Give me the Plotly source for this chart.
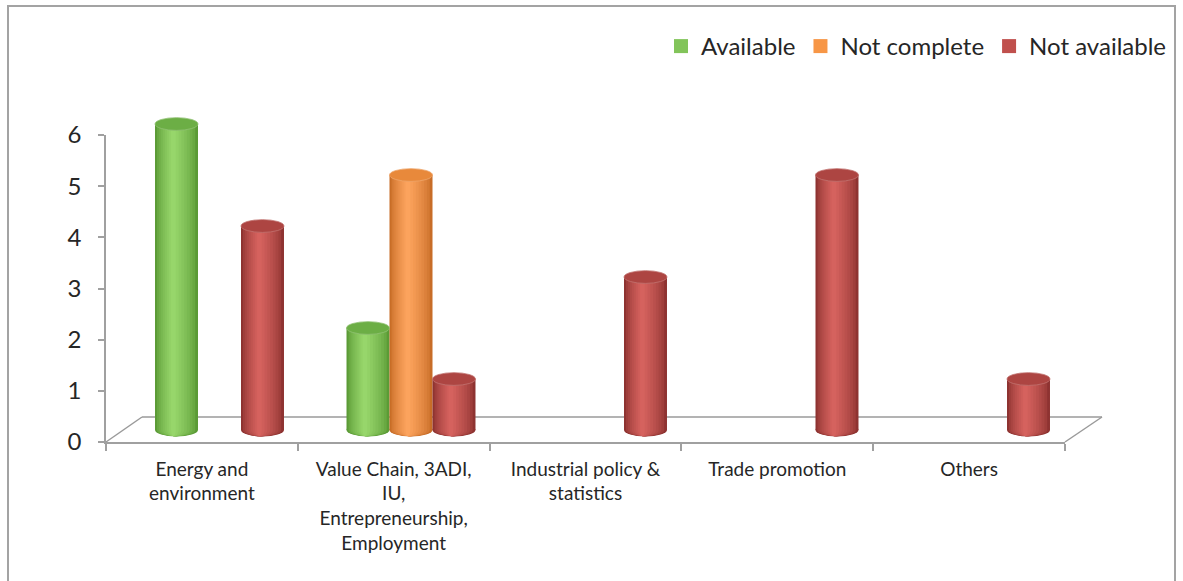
import plotly.graph_objects as go

# ---- data -------------------------------------------------------------
categories = [
    "Energy and environment",
    "Value Chain, 3ADI, IU, Entrepreneurship, Employment",
    "Industrial policy & statistics",
    "Trade promotion",
    "Others",
]
tick_labels = [
    "Energy and<br>environment",
    "Value Chain, 3ADI,<br>IU,<br>Entrepreneurship,<br>Employment",
    "Industrial policy &<br>statistics",
    "Trade promotion",
    "Others",
]
series_names = ["Available", "Not complete", "Not available"]
available = [6, 2, 0, 0, 0]
not_complete = [0, 5, 0, 0, 0]
not_available = [4, 1, 3, 5, 1]
y_ticks = [0, 1, 2, 3, 4, 5, 6]

# ---- styling ------------------------------------------------------------
W_PX, H_PX = 1183, 581
FONT = "Lato"
TEXT = "#262626"
AXIS = "#a0a0a0"

# (edge shade, highlight shade, top cap, legend swatch)
palettes = [
    ("#5b9b36", "#97d66b", "#6cae45", "#82c45a"),
    ("#c86d27", "#fca35d", "#e8893b", "#f79646"),
    ("#8e3331", "#d5625e", "#ad4542", "#c0504d"),
]


def px_x(p):
    return p / W_PX


def px_y(p):
    return 1 - p / H_PX


def mix(c1, c2, t):
    a = [int(c1[i:i + 2], 16) for i in (1, 3, 5)]
    b = [int(c2[i:i + 2], 16) for i in (1, 3, 5)]
    return "#%02x%02x%02x" % tuple(round(a[j] + (b[j] - a[j]) * t) for j in range(3))


BAR_W = 0.2245      # cylinder width in category units
CAP_B = 0.125       # vertical semi-axis of the elliptical ends (value units)
N_LAYERS = 9        # shading steps across each cylinder
HIGHLIGHT = 0.42    # position of the highlight across the cylinder

# value axis of the cylinders sits half-way into the floor depth
Y0_PX, UNIT_PX = 430.0, 51.0
Y2_RANGE = [-0.35, 6.5]

fig = go.Figure()

# invisible trace so the front category axis is populated
fig.add_trace(go.Scatter(
    x=categories, y=[0] * len(categories), mode="markers",
    marker=dict(opacity=0), showlegend=False, hoverinfo="skip",
    xaxis="x", yaxis="y",
))

shapes = []
series_values = [available, not_complete, not_available]
for s, (name, vals) in enumerate(zip(series_names, series_values)):
    edge, hi, top, swatch = palettes[s]
    xs = [i + (s - 1) * BAR_W for i in range(len(categories))]
    for k in range(N_LAYERS):
        f = 1 - k / N_LAYERS
        off = -BAR_W / 2 + (1 - f) * HIGHLIGHT * BAR_W
        col = mix(edge, hi, (k / (N_LAYERS - 1)) ** 0.7)
        fig.add_trace(go.Bar(
            x=xs, y=vals, width=f * BAR_W, offset=off,
            marker=dict(color=col, line=dict(width=0)),
            xaxis="x2", yaxis="y2", showlegend=False, hoverinfo="skip",
        ))
        # rounded bottom of each cylinder
        for x, v in zip(xs, vals):
            if v <= 0:
                continue
            cx_inner = x + off + f * BAR_W / 2
            rel = (cx_inner - x) / (BAR_W / 2)
            b = CAP_B * max(0.0, 1 - rel * rel) ** 0.5 * (0.98 if k else 1.0)
            shapes.append(dict(
                type="circle", xref="x2", yref="y2", layer="below",
                x0=x + off, x1=x + off + f * BAR_W, y0=-b, y1=b,
                fillcolor=col, line=dict(width=0),
            ))
    # flat elliptical top of each cylinder
    for x, v in zip(xs, vals):
        if v <= 0:
            continue
        shapes.append(dict(
            type="circle", xref="x2", yref="y2", layer="above",
            x0=x - BAR_W / 2, x1=x + BAR_W / 2, y0=v - CAP_B, y1=v + CAP_B,
            fillcolor=top, line=dict(color=mix(top, "#ffffff", 0.25), width=0.8),
        ))
    # legend swatch
    fig.add_trace(go.Scatter(
        x=[None], y=[None], name=name, mode="markers",
        marker=dict(symbol="square", size=14, color=swatch),
        xaxis="x2", yaxis="y2", showlegend=True,
    ))

# 3-D floor outline (back edge and side edges)
floor_col = "#9a9a9a"
shapes += [
    dict(type="line", xref="paper", yref="paper", layer="below",
         x0=px_x(142), y0=px_y(417), x1=px_x(1102), y1=px_y(417),
         line=dict(color=floor_col, width=1.5)),
    dict(type="line", xref="paper", yref="paper", layer="below",
         x0=px_x(106), y0=px_y(442), x1=px_x(142), y1=px_y(417),
         line=dict(color=floor_col, width=1.5)),
    dict(type="line", xref="paper", yref="paper", layer="below",
         x0=px_x(1065), y0=px_y(442), x1=px_x(1102), y1=px_y(417),
         line=dict(color=floor_col, width=1.5)),
    # chart area border
    dict(type="rect", xref="paper", yref="paper", layer="below",
         x0=px_x(8), y0=-0.05, x1=px_x(1175), y1=px_y(6),
         line=dict(color="#a3a3a3", width=2), fillcolor="rgba(0,0,0,0)"),
]

fig.update_layout(
    width=W_PX, height=H_PX,
    margin=dict(l=0, r=0, t=0, b=0, autoexpand=False),
    paper_bgcolor="white", plot_bgcolor="rgba(0,0,0,0)",
    font=dict(family=FONT, color=TEXT),
    barmode="overlay",
    showlegend=True,
    legend=dict(
        orientation="h", x=px_x(1172), xanchor="right",
        y=px_y(24), yanchor="top",
        font=dict(family=FONT, size=24, color=TEXT),
        bgcolor="rgba(0,0,0,0)", itemclick=False, itemdoubleclick=False,
    ),
    xaxis=dict(
        type="category", domain=[px_x(106), px_x(1065)],
        anchor="y", range=[-0.5, len(categories) - 0.5],
        categoryorder="array", categoryarray=categories,
        tickvals=categories, ticktext=tick_labels,
        showline=True, linecolor=AXIS, linewidth=1.5,
        ticks="outside", tickson="boundaries", ticklen=7,
        tickcolor=AXIS, tickwidth=1.5,
        ticklabelstandoff=9,
        showgrid=False, zeroline=False,
        tickfont=dict(family=FONT, size=19, color=TEXT),
        fixedrange=True, automargin=False,
    ),
    yaxis=dict(
        domain=[px_y(442), px_y(135)], anchor="x",
        range=[0, 6], tickvals=y_ticks,
        showline=True, linecolor=AXIS, linewidth=1.5,
        ticks="outside", ticklen=6, tickcolor=AXIS, tickwidth=1.5,
        ticklabelstandoff=12,
        showgrid=False, zeroline=False,
        tickfont=dict(family=FONT, size=24, color=TEXT),
        fixedrange=True, automargin=False,
    ),
    xaxis2=dict(
        domain=[px_x(123.75), px_x(1081.25)], anchor="y2",
        range=[-0.5, len(categories) - 0.5],
        visible=False, fixedrange=True,
    ),
    yaxis2=dict(
        domain=[px_y(Y0_PX - Y2_RANGE[0] * UNIT_PX), px_y(Y0_PX - Y2_RANGE[1] * UNIT_PX)],
        anchor="x2", range=Y2_RANGE, visible=False, fixedrange=True,
    ),
    shapes=shapes,
)

fig.write_html("out.html")
